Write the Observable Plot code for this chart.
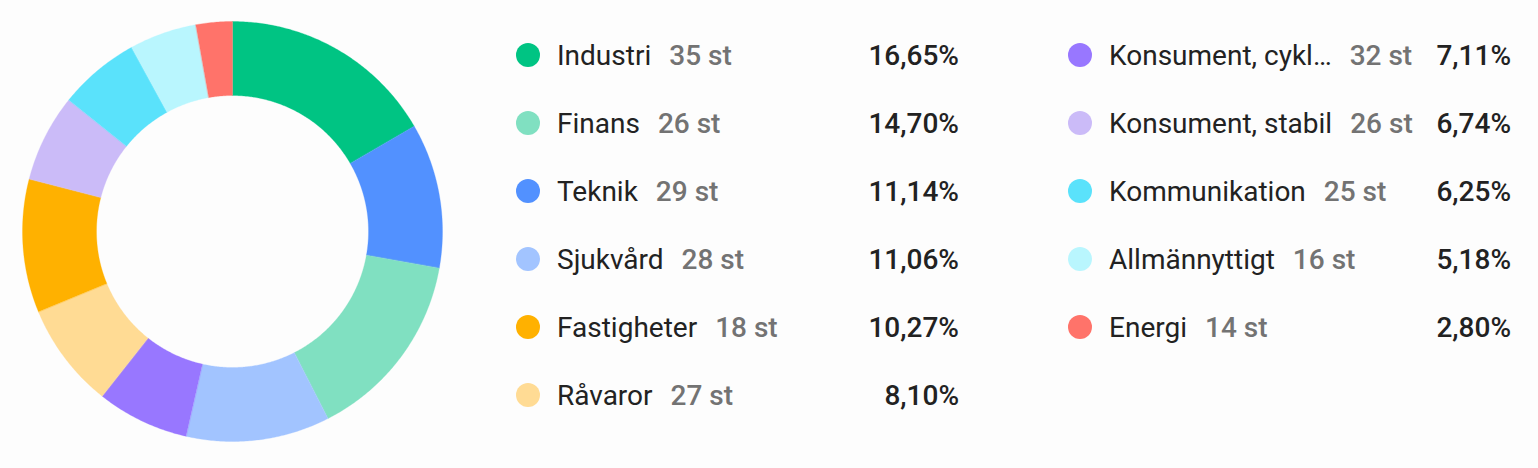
<!DOCTYPE html>
<html>
<head>
<meta charset="utf-8">
<script src="https://cdn.jsdelivr.net/npm/d3@7"></script>
<script src="https://cdn.jsdelivr.net/npm/@observablehq/plot@0.6"></script>
<style>
  html, body { margin: 0; padding: 0; background: #fdfdfd; }
  body { width: 1538px; height: 468px; position: relative; overflow: hidden; font-family: Roboto, "Noto Sans", sans-serif; }
  #chart { position: absolute; left: 0; top: 0; }
  .col { position: absolute; top: 21px; width: 443px; }
  .row { display: flex; align-items: center; height: 68px; font-size: 28px; white-space: nowrap; }
  .dot { width: 24px; height: 24px; border-radius: 50%; flex: 0 0 auto; margin-right: 17px; }
  .name { color: #222; flex: 0 0 auto; }
  .count { color: #737373; font-weight: 500; margin-left: 18px; flex: 0 0 auto; }
  .spacer { flex: 1 1 auto; }
  .pct { color: #222; font-weight: 500; margin-left: 18px; flex: 0 0 auto; }
</style>
</head>
<body>
<div id="chart"></div>
<div id="legend"></div>
<script>
// Data (donut order, clockwise from top)
const sectors = ["Industri", "Teknik", "Finans", "Sjukvård", "Konsument, cyklisk", "Råvaror", "Fastigheter", "Konsument, stabil", "Kommunikation", "Allmännyttigt", "Energi"];
const labels  = ["Industri", "Teknik", "Finans", "Sjukvård", "Konsument, cykl…", "Råvaror", "Fastigheter", "Konsument, stabil", "Kommunikation", "Allmännyttigt", "Energi"];
const shares  = [16.65, 11.14, 14.70, 11.06, 7.11, 8.10, 10.27, 6.74, 6.25, 5.18, 2.80];
const counts  = [35, 29, 26, 28, 32, 27, 18, 26, 25, 16, 14];
const colors  = ["#00c483", "#5291ff", "#80e0c1", "#a2c4ff", "#9877ff", "#ffdb94", "#ffb100", "#cbbbf8", "#5ae2fb", "#b9f6fe", "#ff736a"];
// Legend order
const legendCol1 = ["Industri", "Finans", "Teknik", "Sjukvård", "Fastigheter", "Råvaror"];
const legendCol2 = ["Konsument, cyklisk", "Konsument, stabil", "Kommunikation", "Allmännyttigt", "Energi"];

const innerRatio = 136 / 210;

const table = sectors.map((s, i) => ({sector: s, label: labels[i], share: shares[i], count: counts[i], color: colors[i]}));
const arcs = d3.pie().sort(null).value(d => d.share).startAngle(0).endAngle(2 * Math.PI)(table);

// Build slice outlines (outer arc then inner arc back) from the pie angles
const pts = [];
for (const a of arcs) {
  const n = Math.max(2, Math.ceil((a.endAngle - a.startAngle) / (Math.PI / 360)));
  const outer = [], inner = [];
  for (let k = 0; k <= n; k++) {
    const t = a.startAngle + (a.endAngle - a.startAngle) * k / n;
    outer.push({sector: a.data.sector, x: Math.sin(t), y: Math.cos(t)});
    inner.push({sector: a.data.sector, x: innerRatio * Math.sin(t), y: innerRatio * Math.cos(t)});
  }
  pts.push(...outer, ...inner.reverse());
}

const plot = Plot.plot({
  width: 464,
  height: 468,
  margin: 0,
  x: {domain: [-1, 1], range: [22, 442], axis: null},
  y: {domain: [-1, 1], range: [441, 21], axis: null},
  color: {domain: sectors, range: colors},
  style: {background: "transparent", overflow: "visible"},
  marks: [
    Plot.line(pts, {x: "x", y: "y", z: "sector", fill: "sector", stroke: "sector", strokeWidth: 0.3, curve: "linear-closed"})
  ]
});
document.getElementById("chart").appendChild(plot);

// Legend
const fmt = v => v.toFixed(2).replace(".", ",") + "%";
const legend = document.getElementById("legend");
function makeCol(names, left) {
  const col = document.createElement("div");
  col.className = "col";
  col.style.left = left + "px";
  for (const name of names) {
    const d = table.find(t => t.sector === name);
    const row = document.createElement("div");
    row.className = "row";
    row.innerHTML = `<span class="dot" style="background:${d.color}"></span><span class="name">${d.label}</span><span class="count">${d.count} st</span><span class="spacer"></span><span class="pct">${fmt(d.share)}</span>`;
    col.appendChild(row);
  }
  legend.appendChild(col);
}
makeCol(legendCol1, 516);
makeCol(legendCol2, 1068);
</script>
</body>
</html>
